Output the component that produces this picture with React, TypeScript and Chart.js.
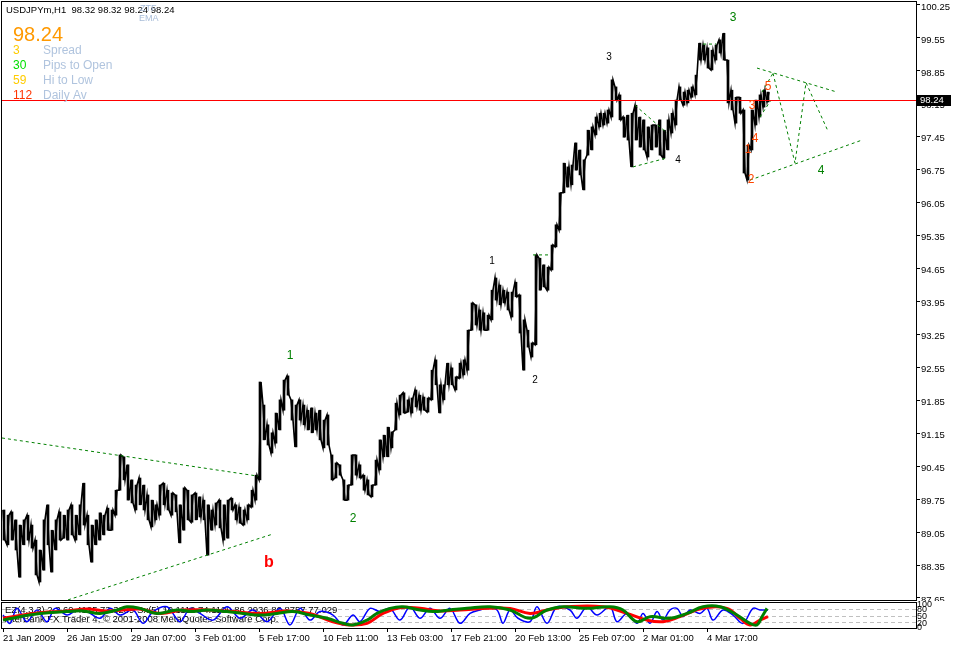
import React, { useEffect, useRef } from 'react';
import { Chart, registerables } from 'chart.js';

Chart.register(...registerables);

// ---------- DATA ----------
const symbol = 'USDJPYm,H1';
const lastBarOHLC = [98.32, 98.32, 98.24, 98.24];
const lastPrice = 98.24;

const infoValues = ['3', '30', '59', '112'];
const infoLabels = ['Spread', 'Pips to Open', 'Hi to Low', 'Daily Av'];
const infoColors = ['#FFCC00', '#00E000', '#FFCC00', '#FF3300'];

// H1 bars, sampled every 4 bars starting at bar 4
const firstBar = 4;
const barStep = 4;
const highs = [
  89.52, 89.41, 89.48, 89.31, 89.20, 89.31, 89.41, 89.20, 88.88, 88.67,
  89.31, 89.63, 89.09, 89.31, 89.48, 89.41, 89.52, 89.63, 89.41, 89.63,
  90.09, 89.41, 89.20, 89.31, 89.46, 89.41, 89.56, 89.52, 89.94, 90.69,
  90.65, 90.48, 90.16, 90.05, 90.20, 90.05, 89.84, 89.73, 89.63, 90.05,
  90.09, 89.94, 89.88, 89.84, 89.63, 89.99, 89.94, 89.84, 89.88, 89.80,
  89.73, 89.63, 89.52, 89.67, 89.73, 89.63, 89.73, 89.77, 89.63, 89.58,
  89.52, 89.63, 89.94, 90.26, 92.24, 91.75, 91.33, 91.16, 91.58, 91.86,
  92.28, 92.37, 91.86, 91.75, 91.86, 91.75, 91.64, 91.69, 91.58, 91.64,
  91.43, 91.54, 90.69, 90.52, 90.48, 90.16, 90.05, 90.69, 90.69, 90.48,
  90.26, 90.16, 90.05, 90.58, 91.01, 91.11, 91.28, 91.18, 91.79, 91.96,
  92.01, 91.86, 91.90, 92.07, 91.96, 91.92, 91.90, 92.49, 92.71, 92.18,
  92.18, 92.64, 92.54, 92.35, 92.64, 92.71, 93.34, 93.92, 93.88, 93.77,
  93.71, 93.66, 94.19, 94.45, 94.30, 94.19, 94.15, 94.15, 94.36, 94.09,
  93.56, 93.34, 93.07, 94.94, 94.87, 94.73, 94.68, 95.15, 95.58, 96.26,
  96.89, 96.81, 96.85, 97.32, 97.17, 96.96, 97.59, 97.66, 97.87, 97.95,
  97.95, 98.02, 98.66, 98.51, 98.34, 97.87, 97.91, 97.95, 98.12, 97.87,
  97.81, 97.66, 97.70, 97.70, 97.81, 97.59, 97.81, 97.95, 98.23, 98.51,
  98.40, 98.44, 98.51, 98.76, 99.44, 99.40, 99.34, 99.29, 99.40, 99.51,
  99.65, 99.08, 98.44, 98.29, 98.29, 98.02, 97.27, 98.02, 98.23, 98.34,
  98.44, 98.40,
];
const lows = [
  88.88, 88.78, 88.88, 88.67, 88.09, 88.78, 88.88, 88.71, 88.14, 87.99,
  88.24, 88.78, 88.20, 88.67, 88.88, 88.92, 88.88, 88.99, 88.88, 88.99,
  89.20, 88.78, 88.41, 88.78, 88.88, 88.99, 89.09, 89.09, 89.41, 89.94,
  90.16, 89.73, 89.67, 89.52, 89.63, 89.52, 89.31, 89.16, 89.31, 89.41,
  89.63, 89.52, 89.41, 89.48, 88.82, 89.09, 89.31, 89.26, 89.31, 89.37,
  89.31, 88.56, 89.09, 89.20, 89.14, 88.88, 88.92, 89.52, 89.31, 89.24,
  89.20, 89.31, 89.58, 89.73, 90.16, 91.01, 90.90, 90.73, 90.94, 91.22,
  91.64, 91.96, 91.43, 90.86, 91.43, 91.33, 91.22, 91.16, 91.22, 91.01,
  90.84, 90.90, 90.16, 90.20, 90.26, 89.73, 89.73, 90.05, 90.26, 90.20,
  89.94, 89.84, 89.80, 90.05, 90.37, 90.65, 90.65, 90.84, 91.22, 91.54,
  91.58, 91.60, 91.58, 91.71, 91.64, 91.64, 91.60, 91.86, 92.18, 91.58,
  91.86, 92.18, 92.18, 92.07, 92.32, 92.39, 92.49, 93.34, 93.45, 93.34,
  93.34, 93.34, 93.56, 93.98, 93.88, 93.92, 93.77, 93.62, 94.05, 93.28,
  92.49, 92.98, 92.77, 93.03, 94.19, 94.26, 94.19, 94.62, 95.11, 95.47,
  96.26, 96.38, 96.43, 96.74, 96.64, 96.32, 97.06, 97.17, 97.49, 97.66,
  97.70, 97.74, 97.87, 98.23, 97.81, 97.44, 97.38, 96.81, 97.38, 97.23,
  97.17, 97.02, 97.17, 97.23, 97.06, 97.00, 97.17, 97.53, 97.70, 98.23,
  98.12, 98.17, 98.29, 98.34, 99.08, 99.08, 98.91, 98.87, 99.08, 99.23,
  99.08, 98.17, 98.02, 97.74, 97.95, 96.68, 96.53, 97.17, 97.70, 97.87,
  98.08, 98.19,
];

const priceTicks = [
  100.25, 99.55, 98.85, 98.15, 97.45, 96.75, 96.05, 95.35, 94.65, 93.95,
  93.25, 92.55, 91.85, 91.15, 90.45, 89.75, 89.05, 88.35, 87.65,
];

const timeTickBars = [3, 67, 131, 195, 259, 323, 387, 451, 515, 579, 643, 707];
const timeTickLabels = [
  '21 Jan 2009', '26 Jan 15:00', '29 Jan 07:00', '3 Feb 01:00', '5 Feb 17:00',
  '10 Feb 11:00', '13 Feb 03:00', '17 Feb 21:00', '20 Feb 13:00', '25 Feb 07:00',
  '2 Mar 01:00', '4 Mar 17:00',
];

// dashed trend lines: [bar1, price1, bar2, price2]
const trendLines = [
  [2, 91.05, 258, 90.24],
  [68, 87.61, 273, 89.01],
  [635, 98.12, 667, 97.53],
  [633, 96.81, 667, 97.0],
  [703, 99.42, 716, 99.42],
  [533, 94.94, 548, 94.94],
  [757, 98.91, 837, 98.4],
  [750, 96.53, 862, 97.38],
  [762, 98.4, 773, 98.8],
  [760, 97.87, 771, 98.23],
];
const zigzagBars = [773, 795, 806, 828];
const zigzagPrices = [98.8, 96.89, 98.6, 97.57];

// wave labels
const waveText = ['3', '3', '4', '1', '2', '1', '2', 'b', '5', '3', '4', '1', '2', '4'];
const waveBar = [733, 609, 678, 492, 535, 290, 353, 269, 768, 752, 755, 748, 751, 821];
const wavePrice = [99.97, 99.15, 96.96, 94.81, 92.28, 92.79, 89.33, 88.41, 98.51, 98.12, 97.4, 97.17, 96.53, 96.74];
const waveStyle = ['g', 'k', 'k', 'k', 'k', 'g', 'g', 'b', 'o', 'o', 'o', 'o', 'o', 'g'];

// oscillator panel
const blueBars = [
  3, 10, 17, 27, 37, 47, 55, 67, 77, 87, 100, 110, 120, 133, 143, 153, 167, 180, 190, 200,
  213, 227, 240, 253, 267, 280, 290, 300, 310, 320, 333, 343, 353, 360, 370, 380, 390, 400,
  410, 420, 430, 440, 450, 460, 470, 480,
  487, 497, 503, 510, 518, 530, 537, 547, 557, 570, 577, 587, 597, 610, 617, 627, 637, 643,
  650, 657, 663, 670, 677, 683, 690, 700, 707, 713, 723, 733, 743, 753, 760, 768,
];
const blueVals = [
  52, 16, 81, 23, 74, 23, 81, 52, 74, 67, 38, 81, 52, 74, 16, 67, 88, 23, 81, 59,
  30, 88, 38, 74, 23, 81, 9, 81, 30, 67, 52, 9, 52, 23, 81, 67, 81, 30,
  88, 38, 81, 38, 81, 16, 59, 74,
  81, 74, 16, 74, 38, 23, 88, 16, 88, 74, 38, 88, 52, 88, 23, 59, 16, 59,
  16, 67, 30, 74, 81, 45, 74, 59, 81, 30, 74, 52, 16, 81, 74, 74,
];
const redBars = [
  3, 33, 67, 87, 107, 123, 140, 160, 183, 207, 233, 260, 287, 310, 333, 350, 367, 383, 400,
  420, 440, 460, 490, 510, 530, 547, 567, 603, 627, 647, 663, 680, 703, 727, 740, 750, 760, 768,
];
const redVals = [
  38, 59, 70, 78, 70, 74, 78, 59, 74, 74, 67, 59, 70, 59, 23, 9, 16, 59, 84,
  81, 70, 74, 81, 81, 59, 74, 88, 88, 59, 30, 23, 45, 81, 81, 38, 9, 30, 45,
];
const greenBars = [
  3, 20, 40, 67, 83, 100, 117, 127, 140, 157, 177, 193, 207, 227, 243, 260, 277, 293, 310,
  327, 343, 353, 367, 377, 390, 403, 420, 433, 450, 467, 490, 510, 530, 547, 563, 587, 610,
  623, 637, 650, 670, 687, 703, 720, 737, 750, 757, 762, 767,
];
const greenVals = [
  30, 45, 59, 67, 70, 59, 74, 88, 81, 59, 74, 67, 74, 67, 59, 52, 59, 67, 52,
  38, 16, 9, 30, 59, 81, 88, 74, 67, 74, 81, 88, 74, 38, 74, 88, 81, 88,
  74, 23, 45, 38, 59, 88, 88, 52, 16, 9, 45, 81,
];
const oscTicks = [0, 20, 50, 80, 100];
const oscLevels = [80, 50, 20];
const oscCaption = 'EZ(4,3,3) 2.3 69.4125 73.3289 Sx(5) 10.1112 74.1109 86.2936 86.8757 77.029';
const copyright = 'InterBank FX Trader 4, \u00A9 2001-2008 MetaQuotes Software Corp.';

// ---------- STYLE ----------
const FONT = "'Liberation Sans', Arial, sans-serif";
const GREEN = '#008000';

const waveFonts: Record<string, [string, string]> = {
  g: [`12px ${FONT}`, GREEN],
  k: [`10px ${FONT}`, '#000000'],
  o: [`12px ${FONT}`, '#FF4500'],
  b: [`bold 16px ${FONT}`, '#FF0000'],
};

const fixAxis = (w: number | null, h: number | null) => (s: any) => {
  if (w !== null) s.width = w;
  if (h !== null) s.height = h;
  s.paddingTop = 0;
  s.paddingBottom = 0;
  s.paddingLeft = 0;
  s.paddingRight = 0;
};

const mainOverlay = {
  id: 'mainOverlay',
  afterDatasetsDraw(chart: any) {
    const { ctx, chartArea } = chart;
    const x = chart.scales.x;
    const y = chart.scales.y;
    ctx.save();
    const py = Math.round(y.getPixelForValue(lastPrice)) + 0.5;
    ctx.strokeStyle = '#FF0000';
    ctx.lineWidth = 1;
    ctx.beginPath();
    ctx.moveTo(chartArea.left, py);
    ctx.lineTo(chartArea.right, py);
    ctx.stroke();
    ctx.textAlign = 'center';
    ctx.textBaseline = 'middle';
    waveText.forEach((t, i) => {
      const [f, c] = waveFonts[waveStyle[i]];
      ctx.font = f;
      ctx.fillStyle = c;
      ctx.fillText(t, x.getPixelForValue(waveBar[i]), y.getPixelForValue(wavePrice[i]));
    });
    ctx.restore();
  },
  afterDraw(chart: any) {
    const { ctx, chartArea } = chart;
    const y = chart.scales.y;
    ctx.save();
    ctx.strokeStyle = '#000';
    ctx.lineWidth = 1;
    ctx.strokeRect(chartArea.left - 0.5, chartArea.top - 0.5, chartArea.right - chartArea.left + 1, chartArea.bottom - chartArea.top + 1);
    ctx.textBaseline = 'middle';
    ctx.textAlign = 'left';
    ctx.font = `9.5px ${FONT}`;
    ctx.fillStyle = '#000';
    ctx.fillText(`${symbol}  ${lastBarOHLC.map((v) => v.toFixed(2)).join(' ')}`, 6, 10);
    ctx.fillStyle = '#A8BCD8';
    ctx.font = `9px ${FONT}`;
    ctx.fillText('ZTF', 140, 9);
    ctx.fillText('EMA', 139, 19);
    ctx.font = `20px ${FONT}`;
    ctx.fillStyle = '#FF9900';
    ctx.fillText(lastPrice.toFixed(2), 13, 35);
    ctx.font = `12px ${FONT}`;
    infoValues.forEach((v, i) => {
      const yy = 50.5 + i * 15;
      ctx.fillStyle = infoColors[i];
      ctx.fillText(v, 13, yy);
      ctx.fillStyle = '#B0C4DE';
      ctx.fillText(infoLabels[i], 43, yy);
    });
    const py = Math.round(y.getPixelForValue(lastPrice));
    ctx.fillStyle = '#000';
    ctx.fillRect(chartArea.right + 1, py - 5, 34, 11);
    ctx.fillStyle = '#fff';
    ctx.font = `9.5px ${FONT}`;
    ctx.fillText(lastPrice.toFixed(2), chartArea.right + 4, py + 0.5);
    ctx.restore();
  },
};

const oscOverlay = {
  id: 'oscOverlay',
  beforeDatasetsDraw(chart: any) {
    const { ctx, chartArea } = chart;
    const y = chart.scales.y;
    ctx.save();
    ctx.strokeStyle = '#C0C0C0';
    ctx.lineWidth = 1;
    ctx.setLineDash([4, 3]);
    oscLevels.forEach((lv) => {
      const py = Math.round(y.getPixelForValue(lv)) + 0.5;
      ctx.beginPath();
      ctx.moveTo(chartArea.left, py);
      ctx.lineTo(chartArea.right, py);
      ctx.stroke();
    });
    ctx.setLineDash([]);
    ctx.fillStyle = '#000';
    ctx.font = `9.5px ${FONT}`;
    ctx.textBaseline = 'middle';
    ctx.textAlign = 'left';
    ctx.fillText(oscCaption, 5, 9);
    ctx.fillText(copyright, 4, 18);
    ctx.restore();
  },
  afterDraw(chart: any) {
    const { ctx, chartArea } = chart;
    ctx.save();
    ctx.strokeStyle = '#000';
    ctx.lineWidth = 1;
    ctx.strokeRect(chartArea.left - 0.5, chartArea.top - 0.5, chartArea.right - chartArea.left + 1, chartArea.bottom - chartArea.top + 1);
    ctx.restore();
  },
};

export default function App() {
  const mainRef = useRef<HTMLCanvasElement>(null);
  const oscRef = useRef<HTMLCanvasElement>(null);

  useEffect(() => {
    // price trace: each sample stroked through its low and high,
    // ordered by the direction to the next sample (MT4-like jagged trace)
    const trace: { x: number; y: number }[] = [];
    highs.forEach((h, i) => {
      const b = firstBar + i * barStep;
      const mid = (h + lows[i]) / 2;
      const next = i + 1 < highs.length ? (highs[i + 1] + lows[i + 1]) / 2 : mid;
      if (next >= mid) {
        trace.push({ x: b - 1, y: lows[i] }, { x: b + 1, y: h });
      } else {
        trace.push({ x: b - 1, y: h }, { x: b + 1, y: lows[i] });
      }
    });
    const priceBars = highs.map((h, i) => ({ x: firstBar + i * barStep, y: [lows[i], h] }));
    const lineDs = (pts: { x: number; y: number }[], color: string, dash: number[], order: number, width = 1) => ({
      type: 'line' as const,
      data: pts,
      borderColor: color,
      borderWidth: width,
      borderDash: dash,
      pointRadius: 0,
      fill: false,
      tension: 0,
      order,
    });
    const datasets: any[] = [
      { type: 'bar', data: priceBars, backgroundColor: '#000', borderWidth: 0, barThickness: 2, order: 6 },
      lineDs(trace, '#000', [], 5, 1.6),
      ...trendLines.map(([b1, p1, b2, p2]) => lineDs([{ x: b1, y: p1 }, { x: b2, y: p2 }], GREEN, [3, 3], 2)),
      lineDs(zigzagBars.map((b, i) => ({ x: b, y: zigzagPrices[i] })), GREEN, [3, 3], 2),
    ];

    const main = new Chart(mainRef.current!, {
      type: 'bar',
      data: { datasets },
      options: {
        animation: false,
        responsive: false,
        devicePixelRatio: 1,
        layout: { padding: { left: 2, top: 2, right: 0, bottom: 1 } },
        plugins: { legend: { display: false }, tooltip: { enabled: false } },
        scales: {
          x: { type: 'linear', min: 2, max: 916, display: false, offset: false },
          y: {
            type: 'linear',
            position: 'right',
            min: 87.6075,
            max: 100.3137,
            afterBuildTicks: (s: any) => {
              s.ticks = priceTicks.map((v) => ({ value: v }));
            },
            afterFit: fixAxis(37, null),
            ticks: {
              autoSkip: false,
              color: '#000',
              padding: 1,
              labelOffset: 2,
              font: { family: FONT, size: 9.5 },
              callback: (v: any) => Number(v).toFixed(2),
            },
            grid: { drawOnChartArea: false, drawTicks: true, tickLength: 4, color: '#000' },
            border: { display: true, color: '#000' },
          },
        },
      } as any,
      plugins: [mainOverlay],
    });

    const osc = new Chart(oscRef.current!, {
      type: 'line',
      data: {
        datasets: [
          {
            data: blueBars.map((b, i) => ({ x: b, y: blueVals[i] })),
            borderColor: '#0000FF', borderWidth: 1.5, pointRadius: 0, tension: 0.35, order: 3,
          },
          {
            data: redBars.map((b, i) => ({ x: b, y: redVals[i] })),
            borderColor: '#FF0000', borderWidth: 3, pointRadius: 0, tension: 0.4, order: 2,
          },
          {
            data: greenBars.map((b, i) => ({ x: b, y: greenVals[i] })),
            borderColor: GREEN, borderWidth: 3, pointRadius: 0, tension: 0.4, order: 1,
          },
        ],
      },
      options: {
        animation: false,
        responsive: false,
        devicePixelRatio: 1,
        layout: { padding: { left: 2, top: 2, right: 0, bottom: 0 } },
        plugins: { legend: { display: false }, tooltip: { enabled: false } },
        scales: {
          x: {
            type: 'linear',
            min: 2,
            max: 916,
            offset: false,
            position: 'bottom',
            afterBuildTicks: (s: any) => {
              s.ticks = timeTickBars.map((v) => ({ value: v }));
            },
            afterFit: fixAxis(null, 18),
            ticks: {
              autoSkip: false,
              maxRotation: 0,
              minRotation: 0,
              align: 'start',
              color: '#000',
              padding: 1,
              font: { family: FONT, size: 9.5 },
              callback: (_v: any, i: number) => timeTickLabels[i],
            },
            grid: { drawOnChartArea: false, drawTicks: true, tickLength: 4, color: '#000' },
            border: { display: true, color: '#000' },
          },
          y: {
            type: 'linear',
            position: 'right',
            min: -4.3,
            max: 104.3,
            afterBuildTicks: (s: any) => {
              s.ticks = oscTicks.map((v) => ({ value: v }));
            },
            afterFit: fixAxis(37, null),
            ticks: {
              autoSkip: false,
              color: '#000',
              padding: 1,
              labelOffset: 1,
              font: { family: FONT, size: 9 },
            },
            grid: { drawOnChartArea: false, drawTicks: false, tickLength: 0 },
            border: { display: true, color: '#000' },
          },
        },
      } as any,
      plugins: [oscOverlay],
    });

    return () => {
      main.destroy();
      osc.destroy();
    };
  }, []);

  return (
    <div style={{ position: 'absolute', left: 0, top: 0, width: 953, height: 646, background: '#fff' }}>
      <canvas ref={mainRef} width={953} height={601} style={{ position: 'absolute', left: 0, top: 0, display: 'block' }} />
      <canvas ref={oscRef} width={953} height={45} style={{ position: 'absolute', left: 0, top: 601, display: 'block' }} />
    </div>
  );
}
